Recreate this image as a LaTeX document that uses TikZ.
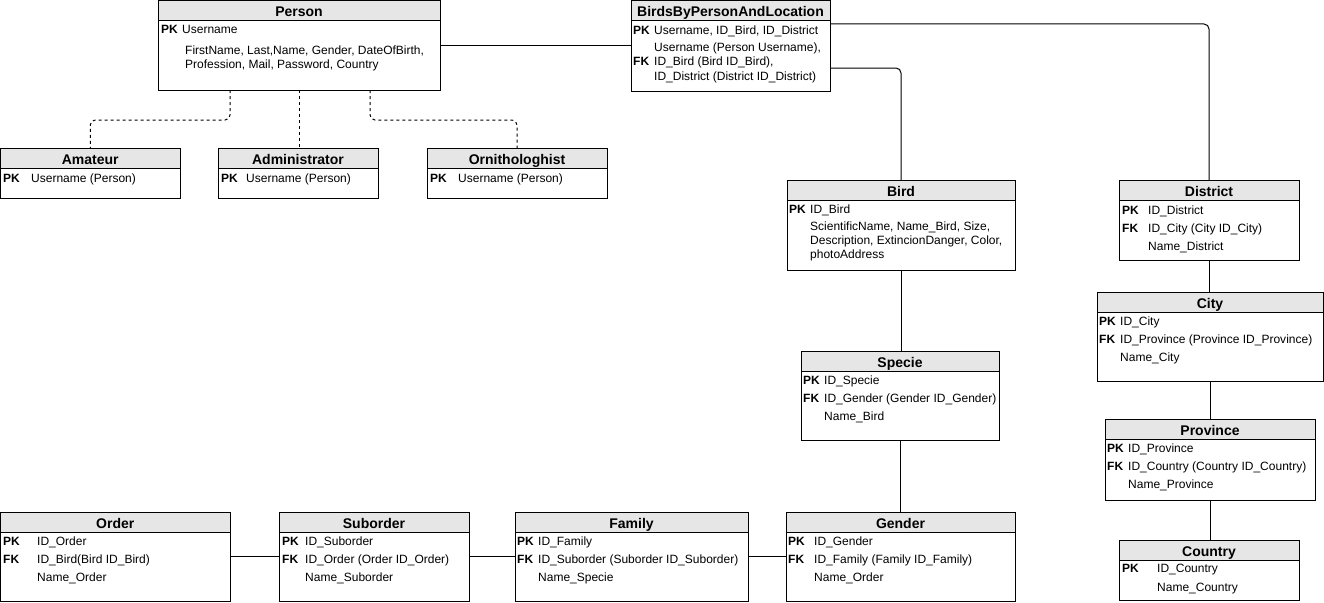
\documentclass[tikz,border=0pt]{standalone}
\usepackage{fontspec}
\setmainfont{Liberation Sans}
\usetikzlibrary{calc}
\definecolor{hdrgray}{HTML}{E6E6E6}

\tikzset{
  ebox/.style={draw=black, line width=1pt, fill=white, inner sep=0pt, outer sep=0pt, anchor=north west},
  hdr/.style={draw=black, line width=1pt, fill=hdrgray},
  ttl/.style={anchor=base, inner sep=0pt, font=\fontsize{14pt}{16pt}\selectfont\bfseries},
  keyt/.style={anchor=base west, inner sep=0pt, font=\fontsize{12pt}{14pt}\selectfont\bfseries},
  fldt/.style={anchor=base west, inner sep=0pt, font=\fontsize{12pt}{14pt}\selectfont},
  conn/.style={draw=black, line width=1pt, rounded corners=5pt},
  inherit/.style={conn, dash pattern=on 3pt off 3pt}
}

% table: name, x1, y1, x2, y2, title
\newcommand\entity[6]{%
  \node[ebox, minimum width={(#4-#2)*1pt}, minimum height={(#5-#3)*1pt}] (#1) at (#2,#3) {};
  \draw[hdr] (#1.north west) rectangle ([yshift=-20pt]#1.north east);
  \node[ttl] (#1-title) at ([yshift=-16pt]#1.north) {#6};
}
% keyed row: name, key x, text x, baseline, key, text
\newcommand\keyrow[6]{%
  \node[keyt] (#1-k) at (#2,#4) {#5};
  \node[fldt] (#1-v) at (#3,#4) {#6};
}
% plain row: name, text x, baseline, text
\newcommand\plainrow[4]{%
  \node[fldt] (#1) at (#2,#3) {#4};
}

\begin{document}
\begin{tikzpicture}[x=1pt, y=-1pt]
\useasboundingbox (0,0) rectangle (1324,602);

% ---- Person and its subtypes
\entity{person}{158}{0.5}{440}{90}{Person}
\keyrow{person-r1}{161}{182}{34}{PK}{Username}
\plainrow{person-r2}{185}{55}{FirstName, Last,Name, Gender, DateOfBirth,}
\plainrow{person-r3}{185}{69}{Profession, Mail, Password, Country}

\entity{amateur}{0.5}{148}{180}{198}{Amateur}
\keyrow{amateur-r1}{3}{31}{182}{PK}{Username (Person)}

\entity{admin}{218}{148}{378}{198}{Administrator}
\keyrow{admin-r1}{221}{246}{182}{PK}{Username (Person)}

\entity{ornith}{427}{148}{607}{198}{Ornithologhist}
\keyrow{ornith-r1}{430}{458}{182}{PK}{Username (Person)}

% ---- Sightings
\entity{bbpl}{631}{1}{830}{91}{BirdsByPersonAndLocation}
\keyrow{bbpl-r1}{633}{654}{35}{PK}{Username, ID\_Bird, ID\_District}
\plainrow{bbpl-r2}{654}{52}{Username (Person Username),}
\keyrow{bbpl-r3}{633}{654}{66}{FK}{ID\_Bird (Bird ID\_Bird),}
\plainrow{bbpl-r4}{654}{80}{ID\_District (District ID\_District)}

% ---- Taxonomy
\entity{bird}{787}{180}{1015}{270}{Bird}
\keyrow{bird-r1}{789}{810}{213}{PK}{ID\_Bird}
\plainrow{bird-r2}{810}{230}{ScientificName, Name\_Bird, Size,}
\plainrow{bird-r3}{810}{244}{Description, ExtincionDanger, Color,}
\plainrow{bird-r4}{810}{258}{photoAddress}

\entity{specie}{801}{351}{999}{440}{Specie}
\keyrow{specie-r1}{803}{824}{384}{PK}{ID\_Specie}
\keyrow{specie-r2}{803}{824}{402}{FK}{ID\_Gender (Gender ID\_Gender)}
\plainrow{specie-r3}{824}{420}{Name\_Bird}

\entity{gender}{786}{512}{1015}{601}{Gender}
\keyrow{gender-r1}{788}{814}{545}{PK}{ID\_Gender}
\keyrow{gender-r2}{788}{814}{563}{FK}{ID\_Family (Family ID\_Family)}
\plainrow{gender-r3}{814}{581}{Name\_Order}

\entity{family}{515}{512}{748}{601}{Family}
\keyrow{family-r1}{517}{538}{545}{PK}{ID\_Family}
\keyrow{family-r2}{517}{538}{563}{FK}{ID\_Suborder (Suborder ID\_Suborder)}
\plainrow{family-r3}{538}{581}{Name\_Specie}

\entity{suborder}{279}{512}{469}{601}{Suborder}
\keyrow{suborder-r1}{282}{305}{545}{PK}{ID\_Suborder}
\keyrow{suborder-r2}{282}{305}{563}{FK}{ID\_Order (Order ID\_Order)}
\plainrow{suborder-r3}{305}{581}{Name\_Suborder}

\entity{order}{0.5}{512}{230}{601}{Order}
\keyrow{order-r1}{3}{37}{545}{PK}{ID\_Order}
\keyrow{order-r2}{3}{37}{563}{FK}{ID\_Bird(Bird ID\_Bird)}
\plainrow{order-r3}{37}{581}{Name\_Order}

% ---- Location
\entity{district}{1119}{180}{1299}{260}{District}
\keyrow{district-r1}{1122}{1148}{214}{PK}{ID\_District}
\keyrow{district-r2}{1122}{1148}{232}{FK}{ID\_City (City ID\_City)}
\plainrow{district-r3}{1148}{250}{Name\_District}

\entity{city}{1097}{292}{1323}{381}{City}
\keyrow{city-r1}{1099}{1120}{325}{PK}{ID\_City}
\keyrow{city-r2}{1099}{1120}{343}{FK}{ID\_Province (Province ID\_Province)}
\plainrow{city-r3}{1120}{361}{Name\_City}

\entity{province}{1105}{419}{1315}{500}{Province}
\keyrow{province-r1}{1107}{1128}{452}{PK}{ID\_Province}
\keyrow{province-r2}{1107}{1128}{470}{FK}{ID\_Country (Country ID\_Country)}
\plainrow{province-r3}{1128}{488}{Name\_Province}

\entity{country}{1119}{540}{1299}{600}{Country}
\keyrow{country-r1}{1122}{1157}{572}{PK}{ID\_Country}
\plainrow{country-r2}{1157}{591}{Name\_Country}

% ---- Connectors
\coordinate (split) at (0,120);
\draw[inherit] ([xshift=-69pt]person.south) -- ([xshift=-69pt]person.south |- split) -| (amateur.north);
\draw[inherit] (person.south) -- (person.south |- admin.north);
\draw[inherit] ([xshift=71pt]person.south) -- ([xshift=71pt]person.south |- split) -| (ornith.north);

\draw[conn] (person.east) -- (person.east -| bbpl.west);
\draw[conn] ([yshift=-23pt]bbpl.north east) -| (district.north);
\draw[conn] ([yshift=-67pt]bbpl.north east) -| (bird.north);

\draw[conn] (bird.south) -- (bird.south |- specie.north);
\draw[conn] (specie.south) -- (specie.south |- gender.north);

\draw[conn] (order.east) -- (suborder.west);
\draw[conn] (suborder.east) -- (family.west);
\draw[conn] (family.east) -- (gender.west);

\draw[conn] (district.south) -- (district.south |- city.north);
\draw[conn] (city.south) -- (city.south |- province.north);
\draw[conn] (province.south) -- (province.south |- country.north);
\end{tikzpicture}
\end{document}
